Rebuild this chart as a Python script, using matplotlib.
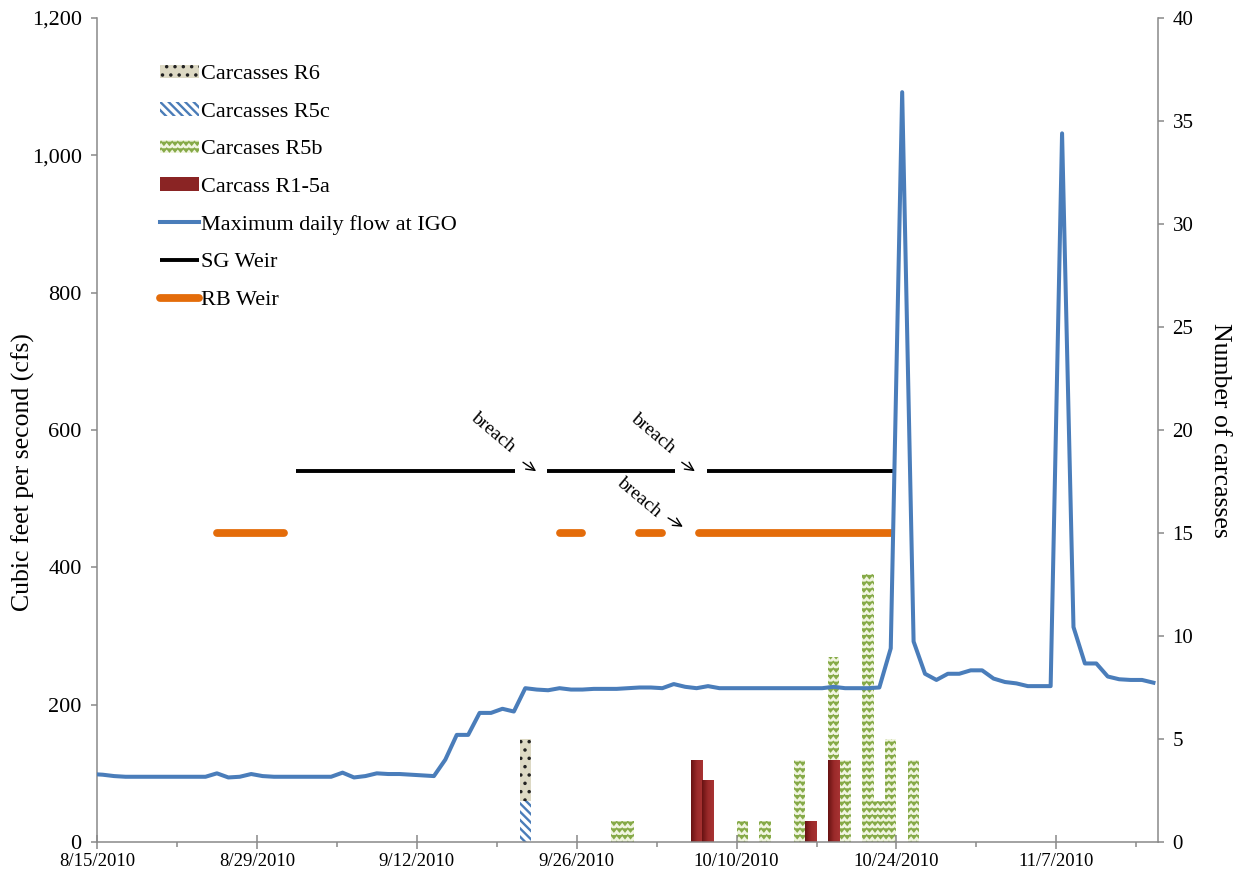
import warnings
import numpy as np
import pandas as pd
import matplotlib
matplotlib.use("Agg")
import matplotlib.pyplot as plt
import matplotlib.dates as mdates
import matplotlib.hatch as mhatch
from matplotlib.colors import LinearSegmentedColormap
from matplotlib.path import Path
from matplotlib.ticker import FixedLocator, FuncFormatter

warnings.filterwarnings("ignore")

# ---------------------------------------------------------------- data
AXIS_START = "2010-08-15"
AXIS_DAYS = 92.9

# maximum daily flow at IGO (cfs), one value per day from 8/14/2010
FLOW_START = "2010-08-14"
flow_cfs = [
    99, 98, 96, 95, 95, 95, 95, 95, 95, 95, 95,
    100, 94, 95, 99, 96, 95, 95, 95, 95, 95, 95,
    101, 94, 96, 100, 99, 99, 98, 97, 96,
    120, 156, 156, 188, 188, 194, 190,
    224, 222, 221, 224, 222, 222, 223, 223, 223, 224, 225, 225, 224, 230, 226, 224, 227, 224,
    224, 224, 224, 224, 224, 224, 224, 224, 224,
    226, 224, 224, 224, 225,
    282, 1092, 292, 245, 236, 245, 245, 250, 250, 238, 233, 231, 227, 227, 227,
    1032, 313, 260, 260, 241, 237, 236, 236, 232,
]

# carcass counts by survey date
carcass_dates = ["2010-09-21", "2010-09-29", "2010-09-30", "2010-10-06", "2010-10-07",
                 "2010-10-10", "2010-10-12", "2010-10-15", "2010-10-16", "2010-10-18",
                 "2010-10-19", "2010-10-21", "2010-10-22", "2010-10-23", "2010-10-25"]
carcass_r1_5a = [0, 0, 0, 4, 3, 0, 0, 0, 1, 4, 0, 0, 0, 0, 0]
carcass_r5b = [0, 1, 1, 0, 0, 1, 1, 4, 0, 5, 4, 13, 2, 5, 4]
carcass_r5c = [2, 0, 0, 0, 0, 0, 0, 0, 0, 0, 0, 0, 0, 0, 0]
carcass_r6 = [3, 0, 0, 0, 0, 0, 0, 0, 0, 0, 0, 0, 0, 0, 0]

# weir operation periods (days after 8/15/2010) and the level they are drawn at
sg_weir_days = [(17.4, 36.6), (39.4, 50.6), (53.4, 69.7)]
rb_weir_days = [(10.5, 16.4), (40.5, 42.5), (47.5, 49.5), (52.7, 69.5)]
SG_WEIR_LEVEL = 540
RB_WEIR_LEVEL = 450

# breach notes: text centre, arrow tail, arrow head (days after 8/15, cfs)
breach_notes = [
    ((34.65, 597), (37.3, 553), (38.45, 540)),
    ((48.65, 595), (51.2, 553), (52.35, 540)),
    ((47.45, 502), (50.0, 472), (51.3, 459)),
]

flow_ticks = list(range(0, 1201, 200))
count_ticks = list(range(0, 41, 5))


# ---------------------------------------------------------------- zigzag hatch
class ZigzagHatch(mhatch.HatchPatternBase):
    """Horizontal zigzag rows, selected with the 'z' hatch character."""

    def __init__(self, hatch, density):
        n = hatch.count("z")
        self.num_rows = int(n * density * 2.5)
        self.num_teeth = 18
        self.num_vertices = self.num_rows * (2 * self.num_teeth + 1) if n else 0

    def set_vertices_and_codes(self, vertices, codes):
        npts = 2 * self.num_teeth + 1
        xs = np.linspace(0.0, 1.0, npts)
        amp = 0.017
        offs = np.where(np.arange(npts) % 2 == 0, amp, -amp)
        for i in range(self.num_rows):
            y = (i + 0.5) / self.num_rows
            sl = slice(i * npts, (i + 1) * npts)
            vertices[sl, 0] = xs
            vertices[sl, 1] = y + offs
            codes[sl] = Path.LINETO
            codes[i * npts] = Path.MOVETO


mhatch._hatch_types.append(ZigzagHatch)


def set_hatch_width(patches, width):
    for p in patches:
        if hasattr(p, "set_hatch_linewidth"):
            p.set_hatch_linewidth(width)


# ---------------------------------------------------------------- style
plt.rcParams["font.family"] = ["Liberation Serif", "DejaVu Serif"]
plt.rcParams["hatch.linewidth"] = 1.0
AXIS_GREY = "#898989"

fig = plt.figure(figsize=(12.43, 8.81), dpi=100)
L, R, B, T = 97 / 1243, 1158 / 1243, 39 / 881, 863 / 881
ax = fig.add_axes([L, B, R - L, T - B])
axc = ax.twinx()
ax.set_zorder(axc.get_zorder() + 1)
ax.patch.set_visible(False)
axc.patch.set_visible(False)

x0 = mdates.date2num(pd.Timestamp(AXIS_START))
flow_x = mdates.date2num(pd.date_range(FLOW_START, periods=len(flow_cfs), freq="D")) + 0.5
bar_x = mdates.date2num(pd.to_datetime(carcass_dates)) + 0.5

# ---------------------------------------------------------------- carcass bars
r1 = np.array(carcass_r1_5a)
r5b = np.array(carcass_r5b)
r5c = np.array(carcass_r5c)
r6 = np.array(carcass_r6)

b_r1 = axc.bar(bar_x, r1, width=1.0, color="#8A2424", linewidth=0,
               label="Carcass R1-5a")
b_r5b = axc.bar(bar_x, r5b, bottom=r1, width=1.0, facecolor="#F1F5E1",
                edgecolor="#86AA48", linewidth=0, hatch="z", label="Carcases R5b")
set_hatch_width(b_r5b, 1.1)
b_r5c = axc.bar(bar_x, r5c, bottom=r1 + r5b, width=1.0, facecolor="white",
                edgecolor="#4A7CB8", linewidth=0, hatch="\\\\\\\\",
                label="Carcasses R5c")
set_hatch_width(b_r5c, 1.7)
b_r6 = axc.bar(bar_x, r6, bottom=r1 + r5b + r5c, width=1.0, facecolor="#DDD9C4",
               edgecolor="#222222", linewidth=0, hatch="..", label="Carcasses R6")
set_hatch_width(b_r6, 1.3)

# shaded fill on the R1-5a columns: dark on the left, lighter to the right
red_shade = LinearSegmentedColormap.from_list("red_shade", ["#671212", "#9A2A2A", "#A83333"])
shade = np.linspace(0, 1, 64).reshape(1, -1)
for patch in b_r1:
    if patch.get_height() > 0:
        bx, by = patch.get_x(), patch.get_y()
        im = axc.imshow(shade, cmap=red_shade, aspect="auto", interpolation="bilinear",
                        extent=(bx, bx + patch.get_width(), by, by + patch.get_height()),
                        zorder=patch.get_zorder() + 0.1)
        im.set_clip_path(patch)

# ---------------------------------------------------------------- flow and weirs
flow_line, = ax.plot(flow_x, flow_cfs, color="#4A7DBA", lw=2.9,
                     solid_joinstyle="round", label="Maximum daily flow at IGO", zorder=4)

sg_line = None
for a, b in sg_weir_days:
    ln, = ax.plot([x0 + a, x0 + b], [SG_WEIR_LEVEL, SG_WEIR_LEVEL], color="black",
                  lw=2.8, solid_capstyle="butt", zorder=3)
    sg_line = sg_line or ln
rb_line = None
for a, b in rb_weir_days:
    ln, = ax.plot([x0 + a, x0 + b], [RB_WEIR_LEVEL, RB_WEIR_LEVEL], color="#E46C0A",
                  lw=5.6, solid_capstyle="round", zorder=3)
    rb_line = rb_line or ln

for (tx, ty), (ax_, ay), (hx, hy) in breach_notes:
    ax.text(x0 + tx, ty, "breach", rotation=-40, rotation_mode="anchor",
            ha="center", va="center", fontsize=14)
    ax.annotate("", xy=(x0 + hx, hy), xytext=(x0 + ax_, ay),
                arrowprops=dict(arrowstyle="->,head_length=0.6,head_width=0.3",
                                lw=1.0, color="black", shrinkA=0, shrinkB=0))

# ---------------------------------------------------------------- axes
ax.set_xlim(x0, x0 + AXIS_DAYS)
ax.set_ylim(0, 1200)
axc.set_ylim(0, 40)

major_dates = pd.date_range(AXIS_START, periods=7, freq="14D")
minor_dates = pd.date_range(AXIS_START, periods=14, freq="7D")
ax.xaxis.set_major_locator(FixedLocator(mdates.date2num(major_dates)))
ax.xaxis.set_minor_locator(FixedLocator(mdates.date2num(minor_dates)))
ax.xaxis.set_major_formatter(FuncFormatter(
    lambda v, p: (lambda d: f"{d.month}/{d.day}/{d.year}")(mdates.num2date(v))))

ax.yaxis.set_major_locator(FixedLocator(flow_ticks))
ax.yaxis.set_major_formatter(FuncFormatter(lambda v, p: f"{v:,.0f}"))
axc.yaxis.set_major_locator(FixedLocator(count_ticks))

ax.tick_params(axis="x", which="major", direction="inout", length=9.5, width=1.1,
               color=AXIS_GREY, labelsize=13.5, pad=3)
ax.tick_params(axis="x", which="minor", direction="out", length=3.6, width=1.1,
               color=AXIS_GREY)
ax.tick_params(axis="y", direction="out", length=4.5, width=1.1, color=AXIS_GREY,
               labelsize=16, pad=6.5)
axc.tick_params(axis="y", direction="out", length=4.5, width=1.1, color=AXIS_GREY,
                labelsize=15, pad=6)

for s in ("top", "right"):
    ax.spines[s].set_visible(False)
for s in ("left", "bottom"):
    ax.spines[s].set_color(AXIS_GREY)
    ax.spines[s].set_linewidth(1.1)
for s in ("top", "left", "bottom"):
    axc.spines[s].set_visible(False)
axc.spines["right"].set_color(AXIS_GREY)
axc.spines["right"].set_linewidth(1.1)

ax.set_ylabel("Cubic feet per second (cfs)", fontsize=18.5, va="center")
ax.yaxis.set_label_coords(-0.069, 0.449)
axc.set_ylabel("Number of carcasses", fontsize=18.5, rotation=270, va="center")
axc.yaxis.set_label_coords(1.058, 0.5)

# ---------------------------------------------------------------- legend
handles = [b_r6, b_r5c, b_r5b, b_r1, flow_line, sg_line, rb_line]
labels = ["Carcasses R6", "Carcasses R5c", "Carcases R5b", "Carcass R1-5a",
          "Maximum daily flow at IGO", "SG Weir", "RB Weir"]
leg = ax.legend(handles, labels, loc="upper left", bbox_to_anchor=(0.0594, 0.9435),
                frameon=False, borderpad=0, borderaxespad=0, handlelength=1.75,
                handleheight=0.55, handletextpad=0.1, labelspacing=0.81, fontsize=16)
leg_handles = leg.legend_handles
set_hatch_width([leg_handles[0]], 1.3)
set_hatch_width([leg_handles[1]], 1.7)
set_hatch_width([leg_handles[2]], 1.1)

fig.savefig("out.png", dpi=100)
